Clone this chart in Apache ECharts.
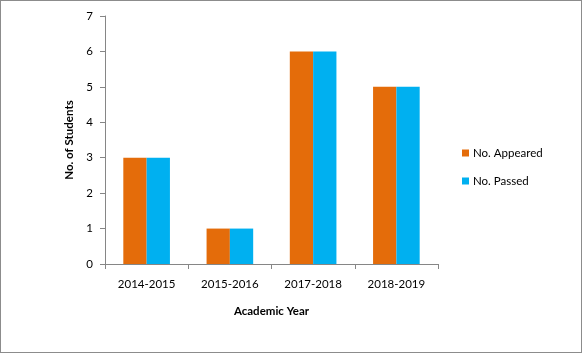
<!DOCTYPE html>
<html><head><meta charset="utf-8">
<script src="https://cdn.jsdelivr.net/npm/echarts@6/dist/echarts.min.js"></script>
<style>
html,body{margin:0;padding:0;background:#fff;}
#c{width:582px;height:353px;box-sizing:border-box;border:1px solid #8c8c8c;}
</style></head>
<body><div id="c"></div>
<script>
const categories = ['2014-2015','2015-2016','2017-2018','2018-2019'];
const appeared = [3,1,6,5];
const passed = [3,1,6,5];
const FONT = 'Lato';
const chart = echarts.init(document.getElementById('c'));
chart.setOption({
  animation:false,
  textStyle:{fontFamily:FONT},
  grid:{left:104,right:143,top:15,bottom:88},
  legend:{
    orient:'vertical', left:456, top:141, itemWidth:7, itemHeight:7, itemGap:16,
    icon:'rect', textStyle:{fontFamily:FONT,fontSize:11.5,color:'#000',padding:[0,0,0,-1]},
    data:['No. Appeared','No. Passed']
  },
  xAxis:{
    type:'category', data:categories,
    axisLine:{lineStyle:{color:'#868686'}},
    axisTick:{show:true,length:5,lineStyle:{color:'#868686'}},
    axisLabel:{color:'#000',fontSize:11.5,fontFamily:FONT,margin:14},
    name:'Academic Year', nameLocation:'middle', nameGap:41,
    nameTextStyle:{fontWeight:'bold',fontSize:11.5,color:'#000',fontFamily:FONT}
  },
  yAxis:{
    type:'value', min:0, max:7, interval:1,
    axisLine:{show:true,lineStyle:{color:'#868686'}},
    axisTick:{show:true,length:5,lineStyle:{color:'#868686'}},
    splitLine:{show:false},
    axisLabel:{color:'#000',fontSize:11.5,fontFamily:FONT,margin:12},
    name:'No. of Students', nameLocation:'middle', nameGap:30,
    nameTextStyle:{fontWeight:'bold',fontSize:11.5,color:'#000',fontFamily:FONT}
  },
  series:[
    {name:'No. Appeared',type:'bar',data:appeared,barGap:'0%',barCategoryGap:'44%',itemStyle:{color:'#E46C0A'}},
    {name:'No. Passed',type:'bar',data:passed,barGap:'0%',barCategoryGap:'44%',itemStyle:{color:'#00B0F0'}}
  ]
});
</script></body></html>
